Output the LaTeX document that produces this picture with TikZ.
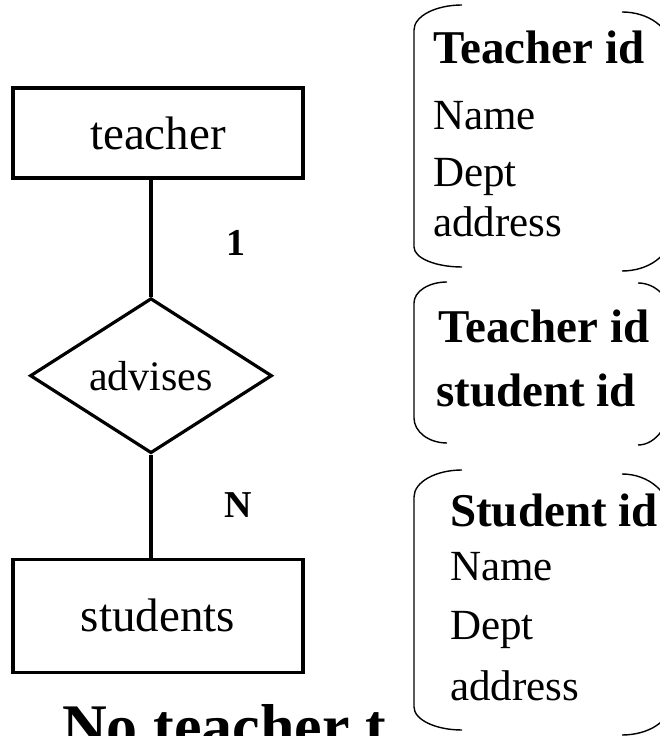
\documentclass[tikz,border=0pt]{standalone}
\usepackage{fontspec}
\setmainfont{Liberation Serif}
\usepackage{tikz}
\usetikzlibrary{shapes,positioning}

\begin{document}
\begin{tikzpicture}[x=1pt, y=1pt]
% STYLES
\tikzset{
    entity/.style={rectangle, draw, line width=3.2pt, minimum width=290pt,
    inner sep=0pt, font=\fontsize{47}{52}\selectfont},
    relation/.style={diamond, draw, line width=3.2pt, minimum width=242pt,
    minimum height=155pt, inner sep=0pt, font=\fontsize{42}{48}\selectfont},
    link/.style={line width=3.2pt},
    card/.style={font=\fontsize{38}{42}\selectfont\bfseries},
    key/.style={anchor=base west, inner sep=0pt, font=\fontsize{47}{52}\selectfont\bfseries},
    attr/.style={anchor=base west, inner sep=0pt, font=\fontsize{43}{50}\selectfont},
    bracket/.style={line width=1.4pt}
}
\useasboundingbox (0,0) rectangle (660,736);

\node [entity, minimum height=90pt] (teacher) at (158,603) {teacher};
\node [relation, below=117pt of teacher, xshift=-7pt] (advises) {advises};
\node [entity, minimum height=113pt, below=103pt of advises, xshift=7pt] (students) {students};

% Draw the links between
\draw[link] (advises.north) -- (advises.north |- teacher.south)
    node[card, midway, xshift=85pt, yshift=-5pt] {1};
\draw[link] (advises.south) -- (advises.south |- students.north)
    node[card, midway, xshift=87pt, yshift=1pt] {N};

% teacher table
\node [key] (tkey) at (433,672) {Teacher id};
\node [attr] (tname) at (433,606) {Name};
\node [attr] (tdept) at (433,549) {Dept};
\node [attr] (taddr) at (433,499) {address};
\draw[bracket] (462,731) arc[start angle=90, end angle=180, x radius=48pt, y radius=25pt]
    -- (414,489) arc[start angle=180, end angle=270, x radius=48pt, y radius=20pt];
\draw[bracket] (622,724) arc[start angle=90, end angle=0, x radius=48pt, y radius=35pt]
    -- (670,500) arc[start angle=0, end angle=-90, x radius=48pt, y radius=35pt];

% advises table
\node [key] (akey) at (438,393) {Teacher id};
\node [key] (askey) at (436,329) {student id};
\draw[bracket] (447,454) arc[start angle=90, end angle=180, x radius=33pt, y radius=21pt]
    -- (414,318) arc[start angle=180, end angle=270, x radius=33pt, y radius=25pt];
\draw[bracket] (638,453) arc[start angle=90, end angle=0, x radius=33pt, y radius=35pt]
    -- (671,338) arc[start angle=0, end angle=-90, x radius=33pt, y radius=47pt];

% students table
\node [key] (skey) at (450,209) {Student id};
\node [attr] (sname) at (450,155) {Name};
\node [attr] (sdept) at (450,96) {Dept};
\node [attr] (saddr) at (450,35) {address};
\draw[bracket] (462,266) arc[start angle=90, end angle=180, x radius=48pt, y radius=27pt]
    -- (414,29) arc[start angle=180, end angle=270, x radius=48pt, y radius=23pt];
\draw[bracket] (622,262) arc[start angle=90, end angle=0, x radius=48pt, y radius=41pt]
    -- (670,32) arc[start angle=0, end angle=-90, x radius=48pt, y radius=31pt];

\node [anchor=base west, inner sep=0pt, font=\fontsize{62}{66}\selectfont\bfseries] (note) at (62,-11) {No teacher t};
\end{tikzpicture}
\end{document}
